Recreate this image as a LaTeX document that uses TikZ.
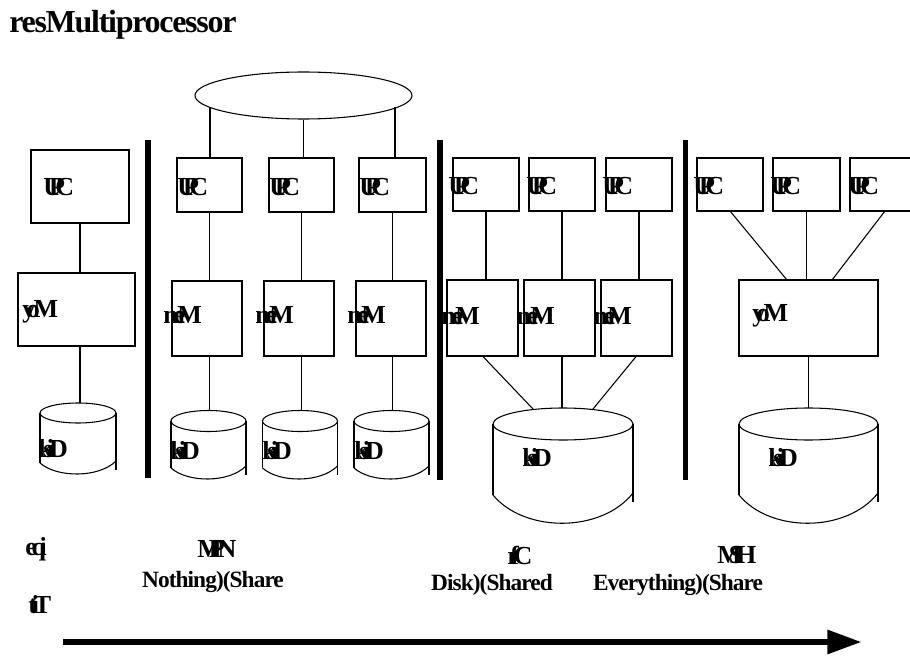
\documentclass[tikz,border=0pt]{standalone}
\usepackage{fontspec}
\setmainfont{Liberation Serif}
\newfontfamily\tightserif[LetterSpace=-4]{Liberation Serif}
\usetikzlibrary{fit,shapes.geometric,arrows.meta}

\tikzset{
  box/.style={draw, line width=0.8pt, inner sep=0pt, outer sep=0pt},
  wire/.style={line width=0.8pt},
  bar/.style={line width=3.8pt},
  tag/.style={font=\bfseries\fontsize{19.5}{19.5}\selectfont, inner sep=0pt, anchor=west},
  capline/.style={font=\tightserif\bfseries\fontsize{17.5}{17.5}\selectfont, inner sep=0pt},
}

% disk drum: name, cx, cy (top centre), rx, ry, side bottom y; \dB holds the base depth
\newcommand\drum[6]{%
  \pgfmathsetmacro\dL{#2-#4}%
  \pgfmathsetmacro\dR{#2+#4}%
  \pgfmathsetmacro\dQa{#2-0.55*#4}%
  \pgfmathsetmacro\dQb{#2+0.55*#4}%
  \pgfmathsetmacro\dE{#6-2}%
  \pgfmathsetmacro\dX{#6+7}%
  \pgfmathsetmacro\dT{#3-#5}%
  \coordinate (#1) at (#2,\dT);
  \draw[wire] (#2,#3) ellipse [x radius=#4, y radius=#5];
  \draw[wire] (\dL,#3) -- (\dL,#6);
  \draw[wire] (\dR,#3) -- (\dR,\dX);
  \draw[wire] (\dL,#6) .. controls (\dQa,\dB) and (\dQb,\dB) .. (\dR,\dE);
}

\begin{document}
\begin{tikzpicture}[x=0.75pt,y=-0.75pt]
\useasboundingbox[fill=white] (0,0) rectangle (910,656);

% title
\node[font=\tightserif\bfseries\fontsize{24}{24}\selectfont, inner sep=0pt, anchor=west] (title) at (9,25) {resMultiprocessor};

% separators between the four organisations
\draw[bar] (148,140) -- (148,478);
\draw[bar] (440,140) -- (440,480);
\draw[bar] (685.5,140) -- (685.5,480);

% ---------- single processor ----------
\node[box, fit={(31,150) (129,223)}] (c0) {};
\node[box, fit={(18,273) (135,346)}] (m0) {};
\def\dB{478}\drum{d0}{78}{413}{38}{10}{463}
\draw[wire] (c0.south) -- (c0.south |- m0.north);
\draw[wire] (c0.south |- m0.south) -- (c0.south |- d0);
\node[tag] (c0t) at (43,187) {U\kern-0.5em P\kern-0.37em C};
\node[tag] (m0t) at (22,312) {y\kern-0.32em o\kern-0.24em M};
\node[tag] (d0t) at (38,449) {k\kern-0.36em s\kern-0.25em i\kern-0.2em D};

% ---------- shared nothing ----------
\node[draw, ellipse, line width=0.8pt, inner sep=0pt, minimum width=162.75pt, minimum height=35.25pt] (bus) at (303.5,95.5) {};
\coordinate (b1) at (210,107.4);
\coordinate (b3) at (395,107.4);

\node[box, fit={(177,158) (242,212)}] (c1) {};
\node[box, fit={(269,158) (334,212)}] (c2) {};
\node[box, fit={(359,158) (426,212)}] (c3) {};
\draw[wire] (b1) -- (b1 |- c1.north);
\draw[wire] (bus.south) -- (bus.south |- c2.north);
\draw[wire] (b3) -- (b3 |- c3.north);

\node[box, fit={(172,281) (242,356)}] (m1) {};
\node[box, fit={(264,281) (334,356)}] (m2) {};
\node[box, fit={(356,281) (426,356)}] (m3) {};
\def\dB{483}
\drum{d1}{208.5}{421}{37.5}{10.5}{468}
\drum{d2}{300}{421}{37.5}{10.5}{468}
\drum{d3}{391.5}{421}{37.5}{10.5}{468}

\draw[wire] (c1.south) -- (c1.south |- m1.north);
\draw[wire] (c2.south) -- (c2.south |- m2.north);
\draw[wire] (c3.south) -- (c3.south |- m3.north);
\draw[wire] (c1.south |- m1.south) -- (c1.south |- d1);
\draw[wire] (c2.south |- m2.south) -- (c2.south |- d2);
\draw[wire] (c3.south |- m3.south) -- (c3.south |- d3);

\node[tag] (c1t) at (177,187) {U\kern-0.5em P\kern-0.37em C};
\node[tag] (c2t) at (269,187) {U\kern-0.5em P\kern-0.37em C};
\node[tag] (c3t) at (359,187) {U\kern-0.5em P\kern-0.37em C};
\node[tag] (m1t) at (163,315) {m\kern-0.43em e\kern-0.31em M};
\node[tag] (m2t) at (255,315) {m\kern-0.43em e\kern-0.31em M};
\node[tag] (m3t) at (347,315) {m\kern-0.43em e\kern-0.31em M};
\node[tag] (d1t) at (170,451) {k\kern-0.36em s\kern-0.25em i\kern-0.2em D};
\node[tag] (d2t) at (262,451) {k\kern-0.36em s\kern-0.25em i\kern-0.2em D};
\node[tag] (d3t) at (354,451) {k\kern-0.36em s\kern-0.25em i\kern-0.2em D};

% ---------- shared disk ----------
\node[box, fit={(453,158) (519,211)}] (c4) {};
\node[box, fit={(529,158) (595,211)}] (c5) {};
\node[box, fit={(606,158) (672,211)}] (c6) {};
\node[box, fit={(447,280) (518,356)}] (m4) {};
\node[box, fit={(524,280) (595,356)}] (m5) {};
\node[box, fit={(601,280) (672,356)}] (m6) {};
\def\dB{533}
\drum{d4}{563}{424}{70}{16}{495}
\coordinate (d4a) at (533,409);
\coordinate (d4c) at (593,409);

\draw[wire] (c4.south) -- (c4.south |- m4.north);
\draw[wire] (c5.south) -- (c5.south |- m5.north);
\draw[wire] (c6.south) -- (c6.south |- m6.north);
\draw[wire] (m4.south) -- (d4a);
\draw[wire] (c5.south |- m5.south) -- (c5.south |- d4);
\draw[wire] (m6.south) -- (d4c);

\node[tag] (c4t) at (448,186) {U\kern-0.5em P\kern-0.37em C};
\node[tag] (c5t) at (526,186) {U\kern-0.5em P\kern-0.37em C};
\node[tag] (c6t) at (602,186) {U\kern-0.5em P\kern-0.37em C};
\node[tag] (m4t) at (441,316) {m\kern-0.43em e\kern-0.31em M};
\node[tag] (m5t) at (516,316) {m\kern-0.43em e\kern-0.31em M};
\node[tag] (m6t) at (593,316) {m\kern-0.43em e\kern-0.31em M};
\node[tag] (d4t) at (522,458) {k\kern-0.36em s\kern-0.25em i\kern-0.2em D};

% ---------- shared everything ----------
\node[box, fit={(697,158) (763,211)}] (c7) {};
\node[box, fit={(773,158) (840,211)}] (c8) {};
\node[box, fit={(850,158) (925,211)}] (c9) {};
\node[box, fit={(739,280) (878,356)}] (m7) {};
\coordinate (m7a) at (787,280);
\coordinate (m7c) at (832,280);
\coordinate (c9b) at (885,211);
\drum{d5}{808.5}{424}{69.5}{16}{495}

\draw[wire] (c7.south) -- (m7a);
\draw[wire] (c8.south) -- (c8.south |- m7.north);
\draw[wire] (c9b) -- (m7c);
\draw[wire] (m7.south) -- (m7.south |- d5);

\node[tag] (c7t) at (693,186) {U\kern-0.5em P\kern-0.37em C};
\node[tag] (c8t) at (770,186) {U\kern-0.5em P\kern-0.37em C};
\node[tag] (c9t) at (848,186) {U\kern-0.5em P\kern-0.37em C};
\node[tag] (m7t) at (752,316) {y\kern-0.32em o\kern-0.24em M};
\node[tag] (d5t) at (768,458) {k\kern-0.36em s\kern-0.25em i\kern-0.2em D};

% ---------- captions ----------
\node[tag] (q1) at (25,549) {e\kern-0.2em q\kern-0.25em i};
\node[tag] (q2) at (28,605) {t\kern-0.2em i\kern-0.2em T};
\node[tag] (n1) at (197,549) {M\kern-0.5em P\kern-0.275em N};
\node[capline] (n2) at (213,582) {Nothing)(Share};
\node[tag] (s1) at (507,555) {r\kern-0.32em f\kern-0.21em C};
\node[capline] (s2) at (492,585) {Disk)(Shared};
\node[tag] (e1) at (717,555) {M\kern-0.5em S\kern-0.28em H};
\node[capline] (e2) at (678,585) {Everything)(Share};

% scaling arrow
\coordinate (ar0) at (63,642);
\coordinate (ar1) at (862,642);
\draw[line width=5.2pt, -{Triangle[length=26pt,width=17pt]}] (ar0) -- (ar1);
\end{tikzpicture}
\end{document}
